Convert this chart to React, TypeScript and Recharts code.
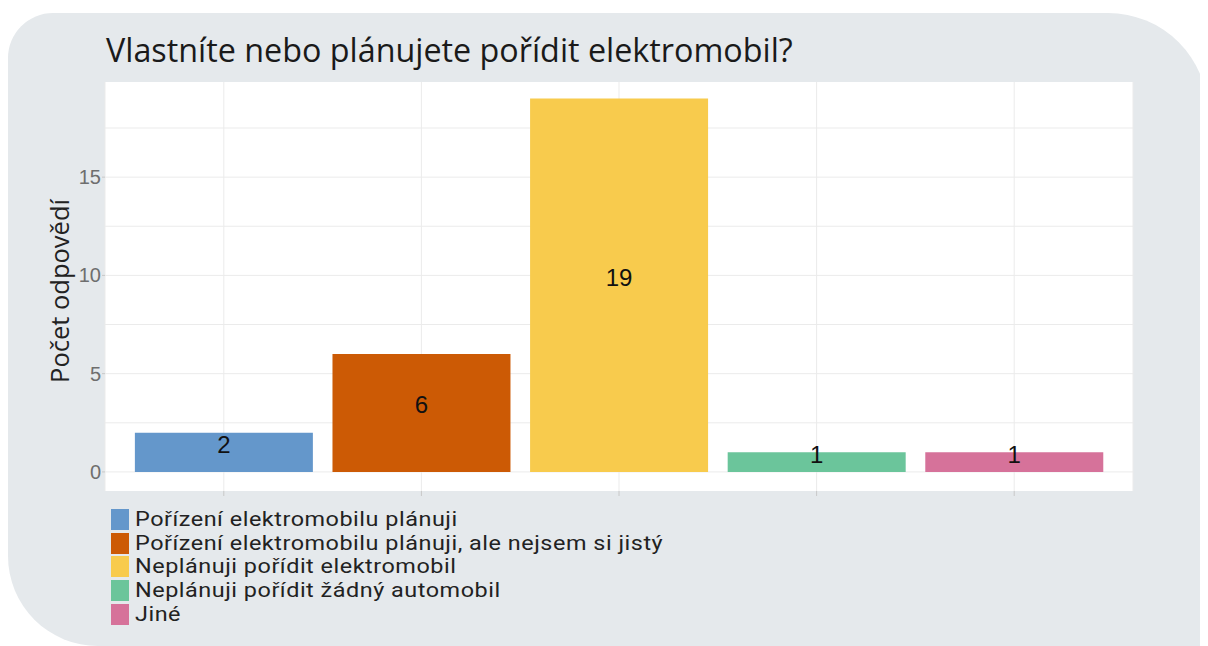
import React from 'react';
import { BarChart, Bar, XAxis, YAxis, CartesianGrid, Cell, LabelList, Legend } from 'recharts';

const categories = [
  'Pořízení elektromobilu plánuji',
  'Pořízení elektromobilu plánuji, ale nejsem si jistý',
  'Neplánuji pořídit elektromobil',
  'Neplánuji pořídit žádný automobil',
  'Jiné',
];
const values = [2, 6, 19, 1, 1];
const colors = ['#6497CB', '#CC5A05', '#F8CB4D', '#6BC59B', '#D6729A'];
const yTicks = [0, 5, 10, 15];
const gridValues = [0, 2.5, 5, 7.5, 10, 12.5, 15, 17.5];
const title = 'Vlastníte nebo plánujete pořídit elektromobil?';
const yTitle = 'Počet odpovědí';

const data = categories.map((c, i) => ({ name: c, value: values[i] }));

const FONT = '"Open Sans", Lato, sans-serif';

const BarLabel = (props: any) => {
  const { x, y, width, height, value } = props;
  if (value == null) return null;
  return (
    <text
      x={x + width / 2}
      y={y + height / 2 - 8}
      textAnchor="middle"
      dominantBaseline="central"
      fontSize={24}
      fontFamily='"Liberation Sans", Arial, sans-serif'
      fill="#111"
    >
      {value}
    </text>
  );
};

const LegendContent = () => (
  <div style={{ fontFamily: 'Roboto, sans-serif', fontSize: 20, color: '#222', letterSpacing: '0.45px' }}>
    {categories.map((c, i) => (
      <div key={c} style={{ display: 'flex', alignItems: 'center', height: 23.6 }}>
        <div style={{ width: 18, height: 21, background: colors[i], marginRight: 6, flex: 'none' }} />
        <div
          style={{
            whiteSpace: 'nowrap',
            lineHeight: '23px',
            height: 23,
            transform: 'scaleX(1.17)',
            transformOrigin: 'left center',
          }}
        >
          {c}
        </div>
      </div>
    ))}
  </div>
);

const YLabel = () => (
  <text
    x={51}
    y={283}
    transform="rotate(-90 51 283)"
    textAnchor="middle"
    dominantBaseline="central"
    fontSize={25.5}
    fontFamily={FONT}
    fill="#222"
  >
    {yTitle}
  </text>
);

export default function App() {
  return (
    <div style={{ position: 'relative', width: 1200, height: 638, overflow: 'hidden' }}>
      <div
        style={{
          position: 'absolute',
          top: 5,
          left: 0,
          width: 1200,
          height: 633,
          background: '#E5E9EC',
          borderRadius: '45px 100px 0 90px',
        }}
      />
      <div
        style={{
          position: 'absolute',
          left: 98,
          top: 21,
          fontFamily: FONT,
          fontSize: 32.3,
          color: '#1a1a1a',
          whiteSpace: 'nowrap',
          lineHeight: '40px',
        }}
      >
        {title}
      </div>
      <div style={{ position: 'absolute', top: 0, left: 0 }}>
        <BarChart
          width={1200}
          height={638}
          data={data}
          margin={{ top: 74, right: 75, bottom: 125, left: 57 }}
          barCategoryGap="5%"
        >
          <CartesianGrid
            fill="#FFFFFF"
            stroke="#EBEBEB"
            strokeWidth={1}
            horizontalValues={gridValues}
          />
          <XAxis
            dataKey="name"
            type="category"
            padding={{ left: 20, right: 20 }}
            height={30}
            axisLine={false}
            tickLine={{ stroke: '#C8C8C8' }}
            tickSize={5}
            tickFormatter={() => ''}
          />
          <YAxis
            type="number"
            width={40}
            domain={[-0.97, 19.84]}
            allowDataOverflow
            ticks={yTicks}
            axisLine={false}
            tickLine={{ stroke: '#C8C8C8' }}
            tickSize={3}
            tickMargin={1}
            tick={{ fontSize: 20, fill: '#6E6E6E', fontFamily: '"Liberation Sans", Arial, sans-serif' }}
            label={<YLabel />}
          />
          <Legend
            layout="vertical"
            align="center"
            verticalAlign="middle"
            content={<LegendContent />}
            wrapperStyle={{ left: 103, top: 500, width: 700, height: 130 }}
          />
          <Bar dataKey="value" isAnimationActive={false}>
            {data.map((d, i) => (
              <Cell key={d.name} fill={colors[i]} />
            ))}
            <LabelList dataKey="value" content={<BarLabel />} />
          </Bar>
        </BarChart>
      </div>
    </div>
  );
}
